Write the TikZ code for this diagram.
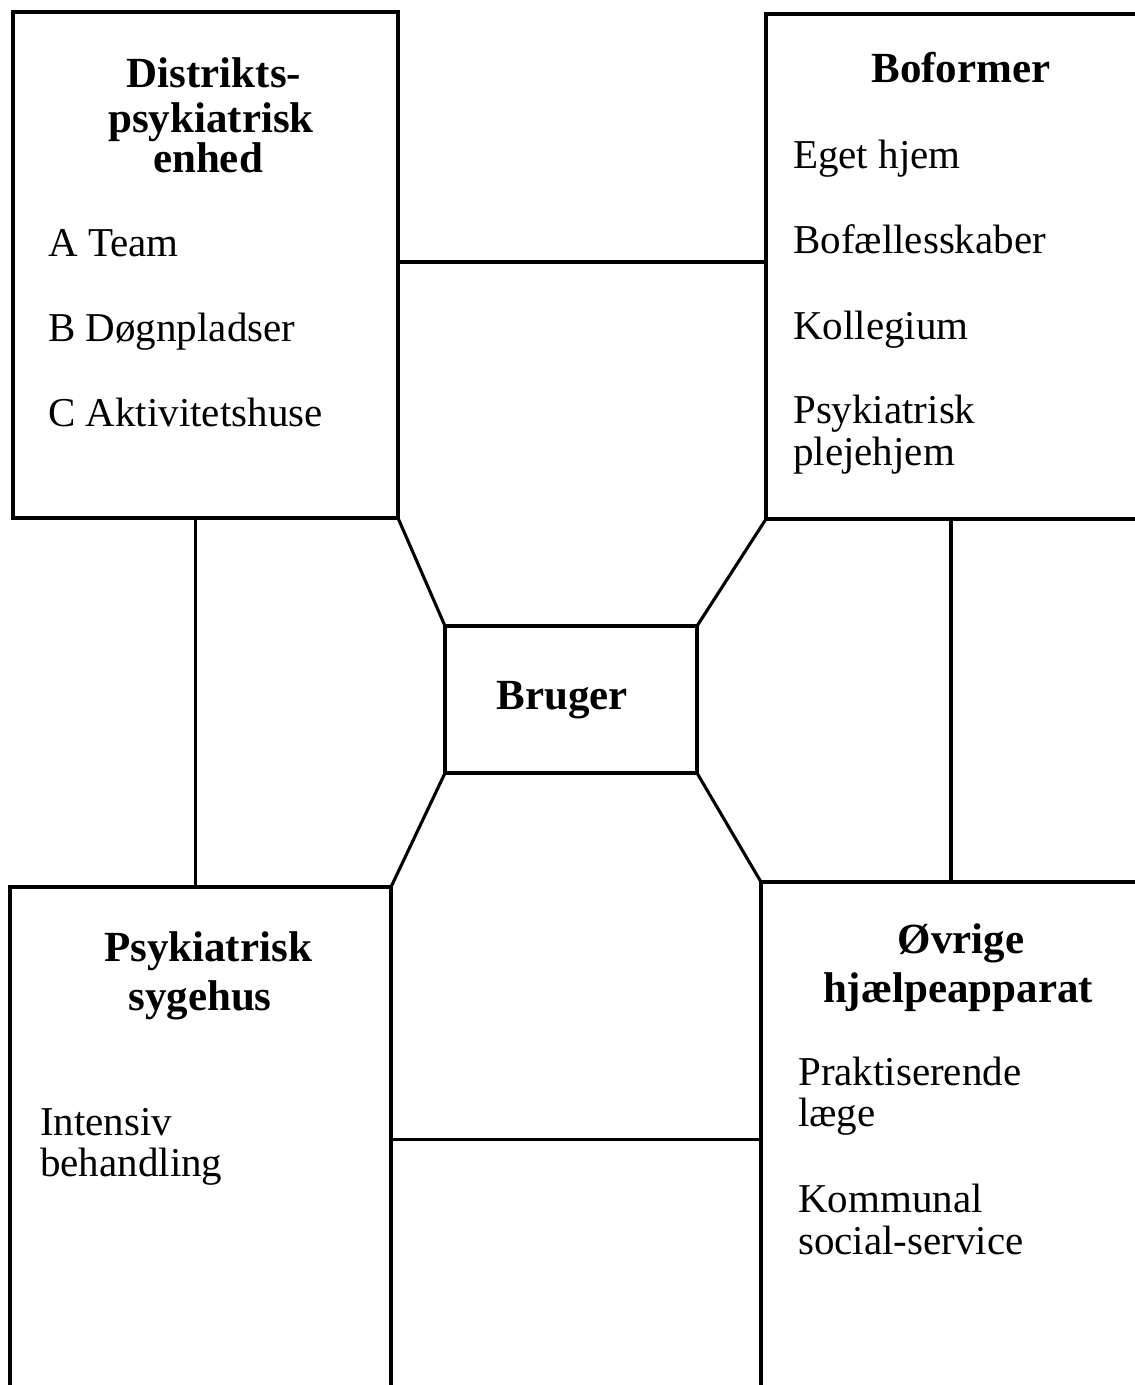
\documentclass[tikz,border=0pt]{standalone}
\usepackage{fontspec}
\setmainfont{Liberation Serif}
\begin{document}
\begin{tikzpicture}[x=1pt,y=-1pt,
  box/.style={draw, line width=3.3pt, inner sep=0pt, outer sep=0pt},
  conn/.style={line width=3.1pt},
  ttl/.style={anchor=base, inner sep=0pt, font=\fontsize{43}{44}\selectfont\bfseries},
  txt/.style={anchor=base west, inner sep=0pt, font=\fontsize{41}{42}\selectfont}]
\useasboundingbox (0,0) rectangle (1135,1385);
\clip (0,0) rectangle (1135,1385);
% boxes
\node[box, minimum width=385pt, minimum height=506pt] (tl) at (205.5,265) {};
\node[box, minimum width=394pt, minimum height=505pt] (tr) at (963,266.5) {};
\node[box, minimum width=252pt, minimum height=147pt] (bru) at (571,699.5) {};
\node[box, minimum width=381pt, minimum height=513pt] (bl) at (200.5,1143.5) {};
\node[box, minimum width=399pt, minimum height=518pt] (br) at (960.5,1141) {};
% connectors
\draw[conn] ([yshift=3pt]tl.east) -- ([yshift=3pt]tl.east -| tr.west);
\draw[conn] ([xshift=-10pt]tl.south) -- ([xshift=-10pt]tl.south |- bl.north);
\draw[conn] ([xshift=-12pt]tr.south) -- ([xshift=-12pt]tr.south |- br.north);
\draw[conn] ([yshift=4pt]bl.east) -- ([yshift=4pt]bl.east -| br.west);
\draw[conn] (tl.south east) -- (bru.north west);
\draw[conn] (tr.south west) -- (bru.north east);
\draw[conn] (bru.south west) -- (bl.north east);
\draw[conn] (bru.south east) -- (br.north west);
% top-left texts
\node[ttl] (t1a) at (214,87) {Distrikts-};
\node[ttl] (t1b) at (211,132) {psykiatrisk};
\node[ttl] (t1c) at (208,172) {enhed};
\node[txt] (a1) at (48,256) {A Team};
\node[txt] (a2) at (48,341) {B Døgnpladser};
\node[txt] (a3) at (48,426) {C Aktivitetshuse};
% top-right texts
\node[ttl] (t2) at (961,82) {Boformer};
\node[txt] (b1) at (793,168) {Eget hjem};
\node[txt] (b2) at (793,253) {Bofællesskaber};
\node[txt] (b3) at (793,339) {Kollegium};
\node[txt] (b4) at (793,423) {Psykiatrisk};
\node[txt] (b5) at (793,465) {plejehjem};
% center
\node[ttl] (t3) at (562,709) {Bruger};
% bottom-left texts
\node[ttl] (t4a) at (208,961) {Psykiatrisk};
\node[ttl] (t4b) at (200,1010) {sygehus};
\node[txt] (c1) at (40,1135) {Intensiv};
\node[txt] (c2) at (40,1176) {behandling};
% bottom-right texts
\node[ttl] (t5a) at (961,953) {Øvrige};
\node[ttl] (t5b) at (958,1002) {hjælpeapparat};
\node[txt] (d1) at (798,1085) {Praktiserende};
\node[txt] (d2) at (798,1126) {læge};
\node[txt] (d3) at (798,1212) {Kommunal};
\node[txt] (d4) at (798,1254) {social-service};
\end{tikzpicture}
\end{document}
